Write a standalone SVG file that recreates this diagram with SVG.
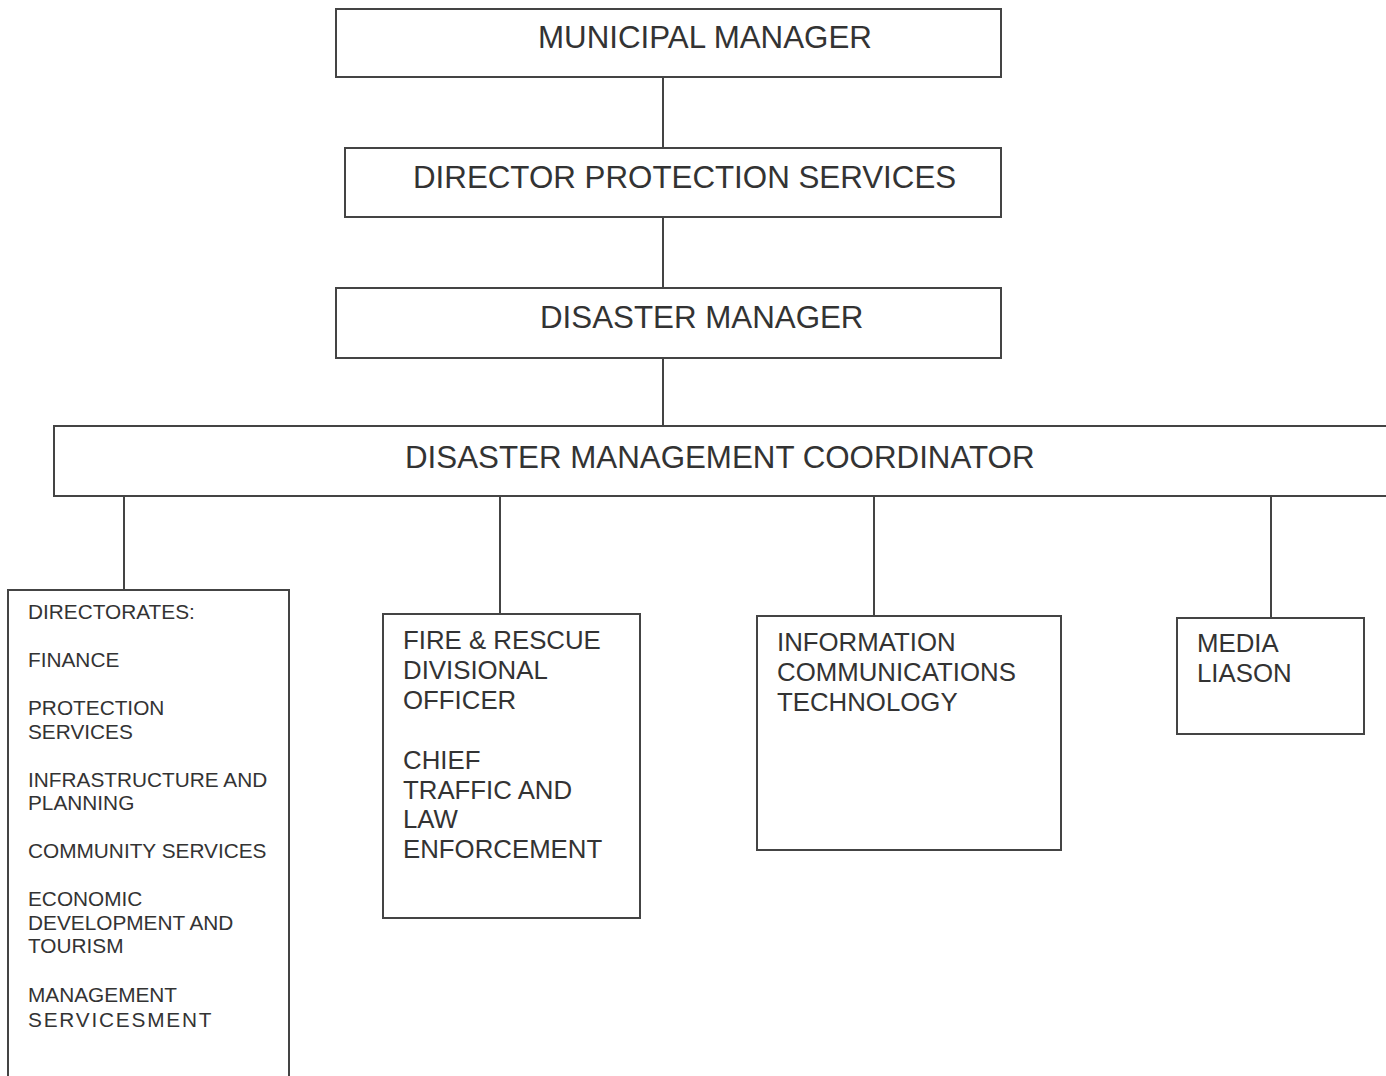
<svg xmlns="http://www.w3.org/2000/svg" width="1386" height="1076" viewBox="0 0 1386 1076">
<style>
.box{fill:#fff;stroke:#444;stroke-width:2}
.ln{stroke:#444;stroke-width:2;fill:none}
.t{font-family:"Liberation Sans",Arial,sans-serif;fill:#333}
.big{font-size:31.3px}
.mid{font-size:25.8px}
.sm{font-size:20.8px}
</style>
<rect width="1386" height="1076" fill="#fff"/>
<g id="connectors">
<line class="ln" x1="663" y1="77" x2="663" y2="148"/>
<line class="ln" x1="663" y1="217" x2="663" y2="288"/>
<line class="ln" x1="663" y1="358" x2="663" y2="426"/>
<line class="ln" x1="124" y1="496" x2="124" y2="590"/>
<line class="ln" x1="500" y1="496" x2="500" y2="614"/>
<line class="ln" x1="874" y1="496" x2="874" y2="616"/>
<line class="ln" x1="1271" y1="496" x2="1271" y2="618"/>
</g>
<g id="municipal-manager">
<rect class="box" x="336" y="9" width="665" height="68"/>
<text class="t big" x="538" y="48">MUNICIPAL MANAGER</text>
</g>
<g id="director-protection-services">
<rect class="box" x="345" y="148" width="656" height="69"/>
<text class="t big" x="413" y="188">DIRECTOR PROTECTION SERVICES</text>
</g>
<g id="disaster-manager">
<rect class="box" x="336" y="288" width="665" height="70"/>
<text class="t big" x="540" y="328">DISASTER MANAGER</text>
</g>
<g id="coordinator">
<rect class="box" x="54" y="426" width="1340" height="70"/>
<text class="t big" x="405" y="468">DISASTER MANAGEMENT COORDINATOR</text>
</g>
<g id="directorates">
<rect class="box" x="8" y="590" width="281" height="500"/>
<text class="t sm">
<tspan x="28" y="619">DIRECTORATES:</tspan>
<tspan x="28" y="667">FINANCE</tspan>
<tspan x="28" y="715">PROTECTION</tspan>
<tspan x="28" y="739">SERVICES</tspan>
<tspan x="28" y="787">INFRASTRUCTURE AND</tspan>
<tspan x="28" y="810">PLANNING</tspan>
<tspan x="28" y="858">COMMUNITY SERVICES</tspan>
<tspan x="28" y="906">ECONOMIC</tspan>
<tspan x="28" y="930">DEVELOPMENT AND</tspan>
<tspan x="28" y="953">TOURISM</tspan>
<tspan x="28" y="1002">MANAGEMENT</tspan>
<tspan x="28" y="1027" letter-spacing="1.8">SERVICESMENT</tspan>
</text>
</g>
<g id="fire-rescue">
<rect class="box" x="383" y="614" width="257" height="304"/>
<text class="t mid">
<tspan x="403" y="649">FIRE &amp; RESCUE</tspan>
<tspan x="403" y="679">DIVISIONAL</tspan>
<tspan x="403" y="709">OFFICER</tspan>
<tspan x="403" y="769">CHIEF</tspan>
<tspan x="403" y="799">TRAFFIC AND</tspan>
<tspan x="403" y="828">LAW</tspan>
<tspan x="403" y="858">ENFORCEMENT</tspan>
</text>
</g>
<g id="ict">
<rect class="box" x="757" y="616" width="304" height="234"/>
<text class="t mid">
<tspan x="777" y="651">INFORMATION</tspan>
<tspan x="777" y="681">COMMUNICATIONS</tspan>
<tspan x="777" y="711">TECHNOLOGY</tspan>
</text>
</g>
<g id="media-liason">
<rect class="box" x="1177" y="618" width="187" height="116"/>
<text class="t mid">
<tspan x="1197" y="652">MEDIA</tspan>
<tspan x="1197" y="682">LIASON</tspan>
</text>
</g>
</svg>
